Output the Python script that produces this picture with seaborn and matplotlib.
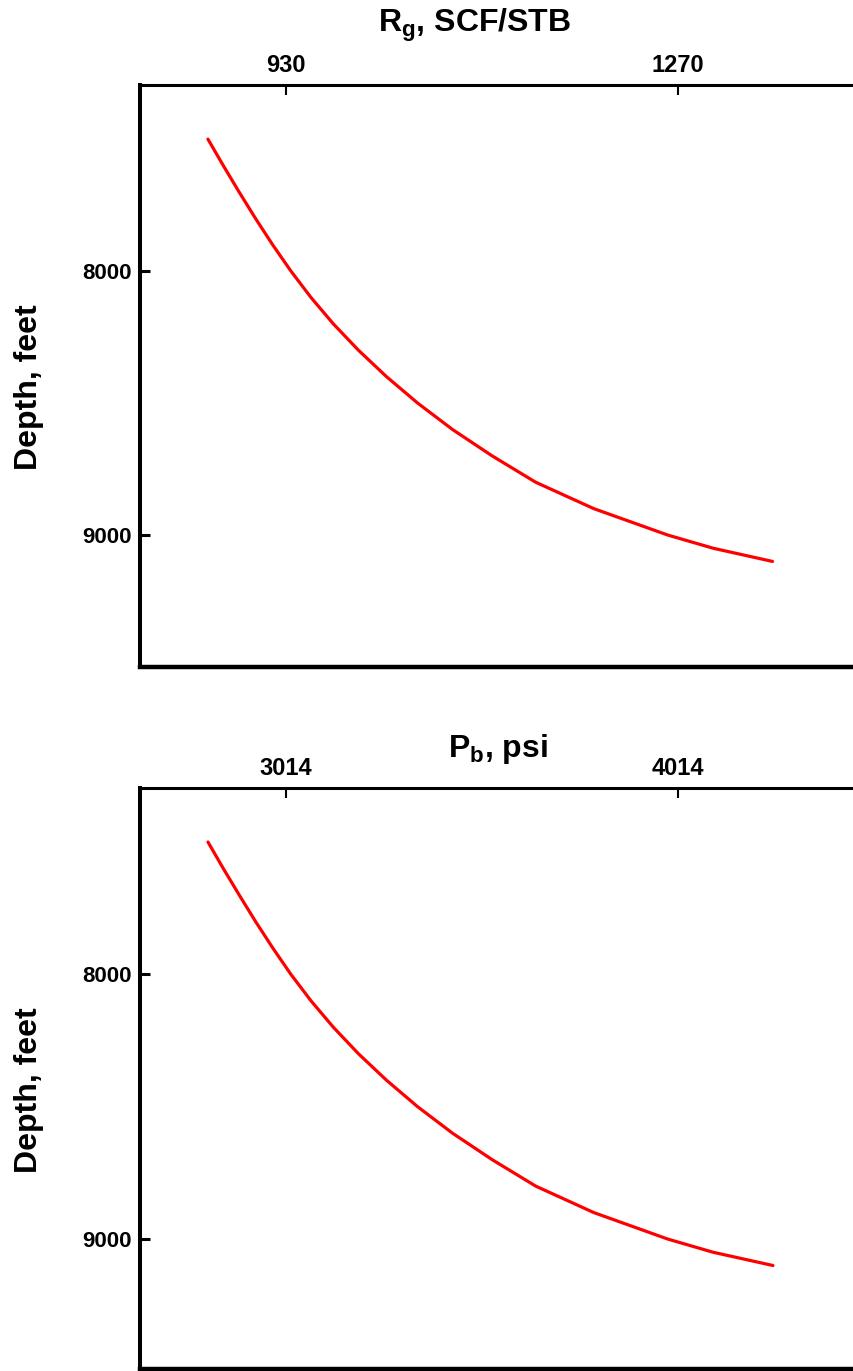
import numpy as np
import pandas as pd
import matplotlib
matplotlib.use("Agg")
import matplotlib.pyplot as plt
import seaborn as sns

# ---------------- data ----------------
depth_ft = [7500, 7600, 7700, 7800, 7900, 8000, 8100, 8200, 8300,
            8400, 8500, 8600, 8700, 8800, 8900, 9000, 9050, 9100]
rg_scf_stb = [862.3, 875.6, 889.3, 903.5, 918.4, 934.3, 951.7, 971.1, 992.9,
              1017.2, 1044.2, 1074.4, 1108.8, 1146.6, 1197.0, 1261.1, 1300.5, 1352.0]
pb_psi = [2815.0, 2854.0, 2894.6, 2936.2, 2980.1, 3026.5, 3077.8, 3134.9, 3198.9,
          3270.4, 3349.7, 3438.7, 3539.8, 3651.0, 3799.2, 3987.7, 4103.8, 4256.3]

rg_ticks = [930, 1270]
pb_ticks = [3014, 4014]
depth_ticks = [8000, 9000]

top_title = r"$\mathbf{R}_\mathbf{g}$, SCF/STB"
bottom_title = r"$\mathbf{P}_\mathbf{b}$, psi"
ylabel = "Depth, feet"

# ---------------- style ----------------
sns.set_style("white")
plt.rcParams["font.family"] = ["Liberation Sans", "DejaVu Sans"]
plt.rcParams["font.weight"] = "bold"
plt.rcParams["text.color"] = "black"
plt.rcParams["axes.labelcolor"] = "black"
plt.rcParams["xtick.color"] = "black"
plt.rcParams["ytick.color"] = "black"
plt.rcParams["mathtext.fontset"] = "custom"
plt.rcParams["mathtext.rm"] = "Liberation Sans:bold"
plt.rcParams["mathtext.bf"] = "Liberation Sans:bold"
plt.rcParams["mathtext.it"] = "Liberation Sans:bold"

W, H = 854, 1371
fig = plt.figure(figsize=(W / 100, H / 100), dpi=100)

def px_rect(left, top, right, bottom):
    return [left / W, 1 - bottom / H, (right - left) / W, (bottom - top) / H]

ax1 = fig.add_axes(px_rect(140, 85, 854, 667))
ax2 = fig.add_axes(px_rect(140, 788, 854, 1369))

df1 = pd.DataFrame({"x": rg_scf_stb, "depth": depth_ft})
df2 = pd.DataFrame({"x": pb_psi, "depth": depth_ft})

for ax, df, xt, xlim, ylim in [
    (ax1, df1, rg_ticks, (803.4, 1422.7), (9500, 7295)),
    (ax2, df2, pb_ticks, (2641.6, 4463.0), (9491, 7296)),
]:
    sns.lineplot(data=df, x="x", y="depth", ax=ax, color="#ff0000",
                 linewidth=2.3, sort=False, estimator=None)
    ax.lines[-1].set_solid_joinstyle("round")
    ax.lines[-1].set_solid_capstyle("round")
    ax.set_xlim(*xlim)
    ax.set_ylim(*ylim)
    ax.set_xticks(xt)
    ax.set_xticklabels([str(v) for v in xt])
    ax.set_yticks(depth_ticks)
    ax.set_yticklabels([str(v) for v in depth_ticks])
    ax.xaxis.tick_top()
    ax.tick_params(axis="x", which="major", direction="in", length=7,
                   width=1.5, pad=6, labelsize=17, top=True, bottom=False,
                   labeltop=True, labelbottom=False, color="black",
                   labelcolor="black")
    ax.tick_params(axis="y", which="major", direction="in", length=7.5,
                   width=2.2, pad=6, labelsize=16, left=True, right=False,
                   color="black", labelcolor="black")
    for lab in ax.get_xticklabels() + ax.get_yticklabels():
        lab.set_fontweight("bold")
    ax.set_xlabel("")
    ax.set_ylabel("")
    ax.spines["right"].set_visible(False)
    ax.spines["left"].set_linewidth(2.9)
    ax.spines["bottom"].set_linewidth(3.2)
    ax.spines["top"].set_linewidth(2.2)
    for s in ["left", "bottom", "top"]:
        ax.spines[s].set_color("black")
    ax.grid(False)

# titles
fig.text(474.5 / W, 1 - 32 / H, top_title, ha="center", va="baseline",
         fontsize=23, fontweight="bold", color="black")
fig.text(498 / W, 1 - 757 / H, bottom_title, ha="center", va="baseline",
         fontsize=23, fontweight="bold", color="black")

# y labels
fig.text(29 / W, 1 - 387 / H, ylabel, rotation=90, ha="center", va="center",
         fontsize=23, fontweight="bold", color="black")
fig.text(29 / W, 1 - 1090 / H, ylabel, rotation=90, ha="center", va="center",
         fontsize=23, fontweight="bold", color="black")

fig.savefig("out.png", dpi=100)
